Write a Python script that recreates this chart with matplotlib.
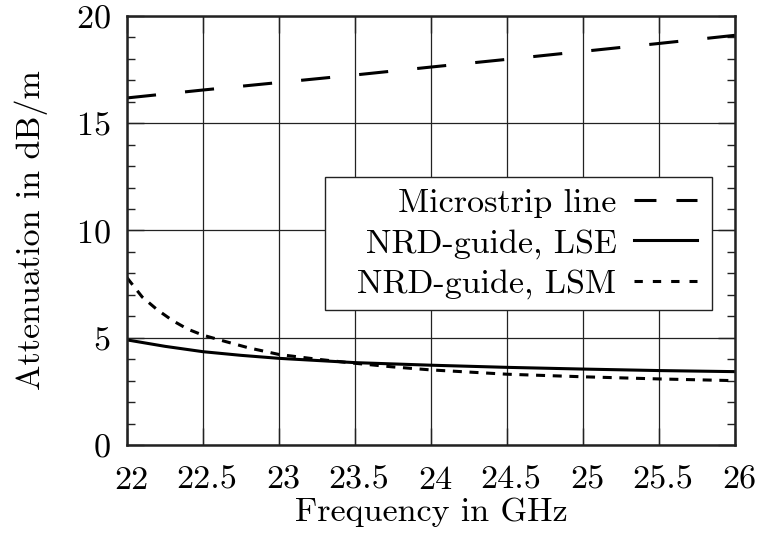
import numpy as np
import matplotlib
matplotlib.use("Agg")
import matplotlib.pyplot as plt
from matplotlib.lines import Line2D
from matplotlib.patches import Rectangle
from matplotlib.ticker import MultipleLocator
from matplotlib.transforms import ScaledTranslation


# ─────────────────────────────────────────────
# Attenuation data (dB/m) versus frequency (GHz)
# ─────────────────────────────────────────────

f_micro = [22.0, 22.5, 23.0, 23.5, 24.0, 24.5, 25.0, 25.5, 26.0]
att_micro = [16.18, 16.55, 16.9, 17.25, 17.62, 17.98, 18.35, 18.72, 19.1]

f_lse = [22.0, 22.25, 22.5, 22.75, 23.0, 23.5, 24.0, 24.5, 25.0, 25.5, 26.0]
att_lse = [4.9, 4.6, 4.35, 4.18, 4.04, 3.84, 3.72, 3.62, 3.54, 3.47, 3.42]

f_lsm = [22.0, 22.1, 22.2, 22.3, 22.4, 22.5, 22.65, 22.8, 23.0, 23.25,
         23.5, 23.75, 24.0, 24.5, 25.0, 25.5, 26.0]
att_lsm = [7.8, 6.9, 6.3, 5.8, 5.4, 5.12, 4.82, 4.53, 4.22, 4.0,
           3.81, 3.64, 3.5, 3.3, 3.18, 3.08, 3.0]

labels = ["Microstrip line", "NRD-guide, LSE", "NRD-guide, LSM"]

x_ticks = [22, 22.5, 23, 23.5, 24, 24.5, 25, 25.5, 26]
x_ticklabels = ["22", "22.5", "23", "23.5", "24", "24.5", "25", "25.5", "26"]
y_ticks = [0, 5, 10, 15, 20]


# ─────────────────────────────────────────────
# Style
# ─────────────────────────────────────────────

plt.rcParams["font.family"] = ["cmr10", "DejaVu Serif"]
plt.rcParams["mathtext.fontset"] = "cm"
plt.rcParams["axes.formatter.use_mathtext"] = True
plt.rcParams["lines.scale_dashes"] = False
FS = 24.5
INK = "#222222"

fig = plt.figure(figsize=(7.6, 5.34), dpi=100)
ax = fig.add_axes([127 / 760, 89 / 534, 608 / 760, 429 / 534])

lw = 2.2
ax.plot(f_micro, att_micro, color="black", lw=lw, linestyle=(0, (21, 21)))
ax.plot(f_lse, att_lse, color="black", lw=lw, linestyle="-")
ax.plot(f_lsm, att_lsm, color="black", lw=lw, linestyle=(0, (6.5, 5.5)))

ax.set_xlim(22, 26)
ax.set_ylim(0, 20)
ax.set_xticks(x_ticks)
ax.set_xticklabels(x_ticklabels)
ax.set_yticks(y_ticks)
ax.yaxis.set_minor_locator(MultipleLocator(1))

ax.grid(True, which="major", color=INK, lw=0.9)
ax.set_axisbelow(True)

ax.tick_params(which="both", direction="in", top=True, right=True,
               labelsize=FS, color=INK)
ax.tick_params(which="major", length=12, width=1.0)
ax.tick_params(which="minor", length=6, width=1.0)
ax.tick_params(axis="x", which="major", pad=15)
ax.tick_params(axis="y", which="major", pad=12)

# x labels sit a touch to the right of their ticks
shift = ScaledTranslation(4 / 100, 0, fig.dpi_scale_trans)
for lab in ax.get_xticklabels():
    lab.set_transform(lab.get_transform() + shift)

for sp in ax.spines.values():
    sp.set_linewidth(1.8)
    sp.set_color(INK)

ax.set_xlabel("Frequency in GHz", fontsize=FS, labelpad=2)
ax.set_ylabel("Attenuation in dB/m", fontsize=FS, labelpad=20)

# ─────────────────────────────────────────────
# Key: white box with right-aligned labels, samples on the right
# ─────────────────────────────────────────────

box = Rectangle((0.3257, 0.3147), 0.9622 - 0.3257, 0.6247 - 0.3147,
                transform=ax.transAxes, facecolor="white", edgecolor=INK,
                lw=1.0, zorder=4)
ax.add_patch(box)

proxies = [
    Line2D([], [], color="black", lw=lw, linestyle=(0, (15.8, 14.4))),
    Line2D([], [], color="black", lw=lw, linestyle="-"),
    Line2D([], [], color="black", lw=lw, linestyle=(0, (6, 7.2))),
]
leg = ax.legend(proxies, labels, loc="upper right",
                bbox_to_anchor=(0.962, 0.634),
                borderaxespad=0, markerfirst=False, fontsize=FS,
                handlelength=1.85, handletextpad=0.5, labelspacing=0.3,
                borderpad=0.45, frameon=False)
leg.set_zorder(5)

fig.savefig("out.png", dpi=100)
